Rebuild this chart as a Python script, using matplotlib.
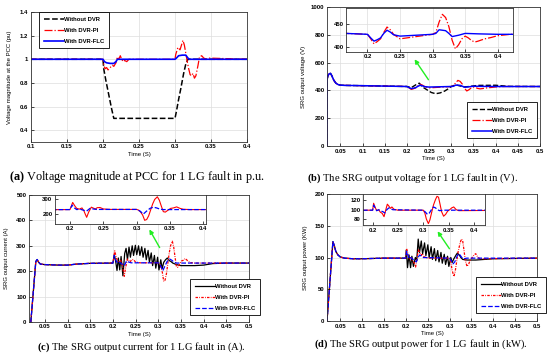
import numpy as np
import matplotlib.pyplot as plt
from matplotlib.ticker import FormatStrFormatter

plt.rcParams['font.family'] = ['Liberation Sans', 'DejaVu Sans']
plt.rcParams['font.weight'] = 'bold'
plt.rcParams['mathtext.fontset'] = 'custom'
plt.rcParams['mathtext.bf'] = 'Liberation Serif:bold'
plt.rcParams['mathtext.rm'] = 'Liberation Serif'

labels = ['Without DVR', 'With DVR-PI', 'With DVR-FLC']
xlabel = 'Time (S)'

# ---- (a) voltage magnitude at PCC (pu)
ta_no = [0.1, 0.2, 0.201, 0.204, 0.208, 0.212, 0.215, 0.3, 0.302, 0.305, 0.308, 0.312, 0.315, 0.318, 0.4]
va_no = [1, 1, 0.92, 0.82, 0.7, 0.58, 0.5, 0.5, 0.56, 0.66, 0.75, 0.88, 0.96, 1.0, 1.0]
ta_pi = [0.1, 0.2, 0.201, 0.203, 0.205, 0.207, 0.21, 0.213, 0.215, 0.218, 0.22, 0.222, 0.224, 0.226,
         0.228, 0.23, 0.233, 0.236, 0.3, 0.301, 0.304, 0.307, 0.309, 0.311, 0.313, 0.315, 0.317, 0.319,
         0.321, 0.323, 0.325, 0.327, 0.329, 0.332, 0.334, 0.337, 0.34, 0.344, 0.348, 0.4]
va_pi = [1, 1, 0.95, 0.92, 0.93, 0.91, 0.93, 0.95, 0.94, 0.97, 1.02, 1.0, 1.03, 1.0,
         0.98, 0.99, 0.98, 1.0, 1.0, 1.04, 1.1, 1.08, 1.12, 1.16, 1.12, 1.05, 0.98, 0.92,
         0.87, 0.86, 0.88, 0.84, 0.86, 0.95, 1.02, 1.03, 1.01, 1.0, 1.01, 1.0]
ta_flc = [0.1, 0.2, 0.202, 0.205, 0.21, 0.215, 0.218, 0.22, 0.3, 0.302, 0.305, 0.31, 0.315, 0.318, 0.32, 0.4]
va_flc = [1, 1, 0.98, 0.97, 0.965, 0.965, 0.98, 1.0, 1.0, 1.01, 1.03, 1.035, 1.035, 1.01, 1.0, 1.0]

# ---- (b) SRG output voltage (V)
tb_start = [0.02, 0.0203, 0.022, 0.025, 0.028, 0.031, 0.035, 0.04, 0.045, 0.05, 0.06, 0.08, 0.1, 0.15]
vb_start = [0, 480, 505, 520, 522, 505, 475, 452, 442, 438, 436, 435, 434, 431]
tb_no = [0.2, 0.21, 0.22, 0.228, 0.235, 0.245, 0.255, 0.265, 0.275, 0.285, 0.295, 0.3, 0.31, 0.32,
         0.33, 0.34, 0.36, 0.4, 0.43, 0.5]
vb_no = [428, 420, 440, 452, 425, 405, 385, 376, 382, 395, 415, 428, 440, 432, 425, 428, 436, 437, 429, 428]
tb_pi = [0.2, 0.205, 0.21, 0.215, 0.22, 0.225, 0.23, 0.235, 0.24, 0.25, 0.26, 0.27, 0.28, 0.29, 0.3,
         0.305, 0.31, 0.315, 0.32, 0.325, 0.33, 0.335, 0.34, 0.345, 0.35, 0.355, 0.36, 0.365, 0.37,
         0.38, 0.39, 0.4, 0.42, 0.5]
vb_pi = [428, 418, 407, 412, 418, 432, 444, 438, 428, 418, 420, 422, 424, 426, 428,
         432, 455, 472, 465, 445, 415, 396, 405, 418, 424, 420, 414, 411, 413,
         418, 421, 425, 428, 428]
tb_flc = [0.2, 0.205, 0.21, 0.215, 0.22, 0.225, 0.23, 0.235, 0.24, 0.25, 0.3, 0.305, 0.31, 0.32,
          0.325, 0.33, 0.34, 0.35, 0.37, 0.4, 0.42, 0.5]
vb_flc = [428, 420, 413, 416, 420, 430, 437, 433, 427, 424, 428, 430, 438, 436,
          430, 423, 426, 430, 429, 428, 428, 428]

# ---- (c) SRG output current (A)
tc_start = [0.019, 0.03, 0.033, 0.036, 0.04, 0.05, 0.08, 0.1, 0.12, 0.15]
ic_start = [0, 238, 246, 236, 228, 226, 224, 224, 228, 231]
tc_no = [0.2, 0.203, 0.206, 0.209, 0.212, 0.215, 0.218, 0.222, 0.226, 0.229, 0.232,
         0.2355, 0.2385, 0.2425, 0.2455, 0.2495, 0.2525, 0.2565, 0.2595, 0.2635, 0.2665,
         0.2705, 0.2735, 0.2775, 0.2805, 0.2845, 0.2875, 0.2915, 0.2945, 0.2985, 0.3015,
         0.3055, 0.3085, 0.312, 0.316, 0.32, 0.324, 0.328, 0.332, 0.34, 0.35, 0.38, 0.4,
         0.42, 0.45, 0.5]
ic_no = [232, 265, 240, 203, 252, 205, 258, 182, 270, 290, 245,
         295, 255, 300, 262, 302, 265, 300, 262, 296, 255,
         290, 245, 282, 235, 272, 222, 262, 212, 255, 205,
         245, 210, 235, 245, 252, 242, 238, 232, 226, 222, 222, 224,
         230, 232, 232]
tc_pi = [0.2, 0.202, 0.204, 0.207, 0.21, 0.214, 0.218, 0.221, 0.223, 0.225, 0.228, 0.232, 0.235,
         0.238, 0.241, 0.245, 0.25, 0.26, 0.3, 0.303, 0.306, 0.309, 0.312, 0.315, 0.318, 0.321,
         0.324, 0.327, 0.331, 0.334, 0.337, 0.34, 0.343, 0.347, 0.351, 0.355, 0.36, 0.365, 0.37,
         0.38, 0.5]
ic_pi = [232, 255, 280, 258, 240, 235, 243, 222, 200, 180, 215, 248, 242,
         236, 245, 246, 236, 233, 233, 228, 215, 195, 160, 165, 190, 230,
         270, 300, 318, 295, 255, 218, 215, 228, 240, 243, 250, 240, 234,
         232, 232]
tc_flc = [0.2, 0.203, 0.206, 0.21, 0.215, 0.22, 0.225, 0.23, 0.235, 0.24, 0.3, 0.305, 0.31,
          0.315, 0.32, 0.325, 0.33, 0.335, 0.34, 0.5]
ic_flc = [232, 262, 245, 232, 235, 228, 222, 240, 236, 233, 233, 222, 202,
          222, 240, 248, 243, 235, 232, 232]

# ---- (d) SRG output power (kW)
td_start = [0.02, 0.0335, 0.037, 0.04, 0.045, 0.05, 0.06, 0.08, 0.1, 0.15]
pd_start = [0, 125, 118, 110, 104, 101, 99, 98, 98, 99]
td_no = [0.2, 0.2015, 0.204, 0.2075, 0.211, 0.214, 0.2175, 0.222, 0.225, 0.2285, 0.2315,
         0.2355, 0.2385, 0.243, 0.246, 0.2505, 0.2535, 0.258, 0.261, 0.2655, 0.2685,
         0.273, 0.276, 0.2805, 0.2835, 0.288, 0.291, 0.2955, 0.2985, 0.303, 0.306,
         0.31, 0.315, 0.318, 0.322, 0.326, 0.33, 0.34, 0.36, 0.38, 0.4, 0.5]
pd_no = [99, 112, 84, 104, 84, 102, 86, 100, 95, 129, 108,
         126, 106, 123, 103, 120, 100, 117, 97, 114, 95,
         111, 93, 108, 91, 105, 89, 102, 86, 100, 92,
         98, 104, 107, 104, 100, 97, 96, 96, 97, 98, 99]
td_pi = [0.2, 0.202, 0.205, 0.208, 0.212, 0.215, 0.219, 0.2225, 0.226, 0.229, 0.232, 0.235,
         0.238, 0.242, 0.25, 0.3, 0.303, 0.306, 0.31, 0.313, 0.316, 0.32, 0.324, 0.327, 0.33,
         0.333, 0.336, 0.34, 0.344, 0.348, 0.352, 0.356, 0.36, 0.365, 0.37, 0.5]
pd_pi = [99, 114, 105, 98, 100, 95, 92, 85, 100, 112, 108, 103,
         106, 101, 99, 99, 93, 80, 70, 78, 92, 110, 122, 129, 127,
         112, 96, 86, 90, 97, 100, 104, 106, 100, 98, 99]
td_flc = [0.2, 0.202, 0.205, 0.208, 0.212, 0.216, 0.22, 0.224, 0.228, 0.232, 0.24, 0.3, 0.304,
          0.308, 0.312, 0.316, 0.32, 0.324, 0.328, 0.332, 0.34, 0.5]
pd_flc = [99, 110, 104, 98, 100, 97, 96, 93, 100, 104, 100, 99, 95,
          90, 93, 100, 106, 104, 100, 98, 99, 99]

W, H = 550, 363
fig = plt.figure(figsize=(W / 100, H / 100), dpi=100)


def box(l, t, r, b):
    return [l / W, 1 - b / H, (r - l) / W, (b - t) / H]


def style(ax, fs=4.3, grid=True):
    ax.tick_params(direction='in', length=2, width=0.5, labelsize=fs, pad=1.8)
    for s in ax.spines.values():
        s.set_linewidth(0.6)
        s.set_color('#333333')
    if grid:
        ax.grid(True, color='#dddddd', lw=0.5)
        ax.set_axisbelow(True)


def legend(ax, l, t):
    leg = ax.legend(loc='upper left', bbox_to_anchor=(l / W, 1 - t / H), bbox_transform=fig.transFigure,
                    fontsize=4.2, frameon=True, fancybox=False, edgecolor='black', framealpha=1,
                    borderaxespad=0, handlelength=3.4, labelspacing=1.0, borderpad=0.8, handletextpad=0.1)
    leg.get_frame().set_linewidth(0.6)


def arrow(x0, y0, x1, y1):
    fig.add_artist(plt.matplotlib.patches.FancyArrowPatch(
        (x0 / W, 1 - y0 / H), (x1 / W, 1 - y1 / H), transform=fig.transFigure,
        arrowstyle='-|>', mutation_scale=6, color='#22ee22', lw=1.0))


def caption(x, y, tag, text, fs):
    fig.text(x / W, 1 - y / H, r'$\mathbf{(' + tag + r')}$ ' + text, ha='center', va='center',
             fontsize=fs, fontweight='normal', family='Liberation Serif')


# ---------------- (a)
ax = fig.add_axes(box(31, 12, 247, 142))
ax.plot(ta_no, va_no, 'k--', lw=1.1, label=labels[0])
ax.plot(ta_pi, va_pi, color='red', ls='-.', lw=0.9, label=labels[1])
ax.plot(ta_flc, va_flc, color='blue', lw=1.2, label=labels[2])
ax.set_xlim(0.1, 0.4)
ax.set_ylim(0.3, 1.4)
ax.set_xticks(np.arange(0.1, 0.401, 0.05))
ax.set_yticks(np.arange(0.4, 1.41, 0.2))
ax.xaxis.set_major_formatter(FormatStrFormatter('%g'))
ax.yaxis.set_major_formatter(FormatStrFormatter('%g'))
style(ax)
ax.set_xlabel(xlabel, fontsize=4.3, labelpad=2)
ax.set_ylabel('Voltage magnitude at the PCC (pu)', fontsize=4.3)
ax.yaxis.set_label_coords(-0.088, 0.5)
legend(ax, 39, 12)

# ---------------- (b)
ax = fig.add_axes(box(327, 7, 540, 146))
ax.plot(tb_start + tb_no, vb_start + vb_no, 'k--', lw=1.0, label=labels[0])
ax.plot(tb_start + tb_pi, vb_start + vb_pi, color='red', ls='-.', lw=0.9, label=labels[1])
ax.plot(tb_start + tb_flc, vb_start + vb_flc, color='blue', lw=1.1, label=labels[2])
ax.set_xlim(0.02, 0.5)
ax.set_ylim(0, 1000)
ax.set_xticks(np.arange(0.05, 0.501, 0.05))
ax.set_yticks(np.arange(0, 1001, 200))
ax.xaxis.set_major_formatter(FormatStrFormatter('%g'))
style(ax)
ax.set_xlabel(xlabel, fontsize=4.3, labelpad=2)
ax.set_ylabel('SRG output voltage (V)', fontsize=4.3)
ax.yaxis.set_label_coords(-0.099, 0.5)
legend(ax, 467, 102)

ins = fig.add_axes(box(346, 8, 513, 52))
ins.plot(tb_start + tb_pi, vb_start + vb_pi, color='red', ls='-.', lw=0.9)
ins.plot(tb_start + tb_flc, vb_start + vb_flc, color='blue', lw=1.0)
ins.set_xlim(0.167, 0.4235)
ins.set_ylim(389, 486)
ins.set_xticks(np.arange(0.2, 0.401, 0.05))
ins.set_yticks([400, 450])
ins.xaxis.set_major_formatter(FormatStrFormatter('%g'))
style(ins)
arrow(430, 82, 413, 57)

# ---------------- (c)
ax = fig.add_axes(box(29, 195, 249, 322))
ax.plot(tc_start + tc_no, ic_start + ic_no, 'k-', lw=0.9, label=labels[0])
ax.plot(tc_start + tc_pi, ic_start + ic_pi, color='red', ls=(0, (2, 1, 0.6, 1)), lw=0.9, label=labels[1])
ax.plot(tc_start + tc_flc, ic_start + ic_flc, color='blue', ls='--', lw=0.9, label=labels[2])
ax.set_xlim(0.015, 0.5)
ax.set_ylim(0, 500)
ax.set_xticks(np.arange(0.05, 0.501, 0.05))
ax.set_yticks(np.arange(0, 501, 100))
ax.xaxis.set_major_formatter(FormatStrFormatter('%g'))
style(ax)
ax.set_xlabel(xlabel, fontsize=4.3, labelpad=2)
ax.set_ylabel('SRG output current (A)', fontsize=4.3)
ax.yaxis.set_label_coords(-0.091, 0.5)
legend(ax, 190, 279)

ins = fig.add_axes(box(55, 195, 206, 224))
ins.plot(tc_start + tc_pi, ic_start + ic_pi, color='red', lw=0.8)
ins.plot(tc_start + tc_flc, ic_start + ic_flc, color='blue', ls='--', lw=0.9)
ins.set_xlim(0.1775, 0.404)
ins.set_ylim(135, 330)
ins.set_xticks(np.arange(0.2, 0.401, 0.05))
ins.set_yticks([200, 300])
ins.xaxis.set_major_formatter(FormatStrFormatter('%g'))
style(ins, grid=False)
arrow(161, 250, 148, 227)

# ---------------- (d)
ax = fig.add_axes(box(327, 194, 537, 321))
ax.plot(td_start + td_no, pd_start + pd_no, 'k-', lw=0.9, label=labels[0])
ax.plot(td_start + td_pi, pd_start + pd_pi, color='red', ls=(0, (2, 1, 0.6, 1)), lw=0.9, label=labels[1])
ax.plot(td_start + td_flc, pd_start + pd_flc, color='blue', ls='--', lw=0.9, label=labels[2])
ax.set_xlim(0.02, 0.5)
ax.set_ylim(0, 200)
ax.set_xticks(np.arange(0.05, 0.501, 0.05))
ax.set_yticks(np.arange(0, 201, 50))
ax.xaxis.set_major_formatter(FormatStrFormatter('%g'))
style(ax)
ax.set_xlabel(xlabel, fontsize=4.3, labelpad=2)
ax.set_ylabel('SRG output power (KW)', fontsize=4.3)
ax.yaxis.set_label_coords(-0.09, 0.5)
legend(ax, 476, 277)

ins = fig.add_axes(box(363, 194, 485, 225))
ins.plot(td_start + td_pi, pd_start + pd_pi, color='red', lw=0.8)
ins.plot(td_start + td_flc, pd_start + pd_flc, color='blue', ls='--', lw=0.9)
ins.set_xlim(0.181, 0.4217)
ins.set_ylim(67, 134)
ins.set_xticks(np.arange(0.2, 0.401, 0.05))
ins.set_yticks([80, 100, 120])
ins.xaxis.set_major_formatter(FormatStrFormatter('%g'))
style(ins, grid=False)
arrow(451, 251, 436, 229)

# ---------------- captions
caption(137, 177, 'a', 'Voltage magnitude at PCC for 1 LG fault in p.u.', 8.8)
caption(412, 178, 'b', 'The SRG output voltage for 1 LG fault in (V).', 7.6)
caption(141, 347, 'c', 'The SRG output current for 1 LG fault in (A).', 7.6)
caption(421, 344, 'd', 'The SRG output power for 1 LG fault in (kW).', 7.6)

fig.savefig('out.png', dpi=100)
